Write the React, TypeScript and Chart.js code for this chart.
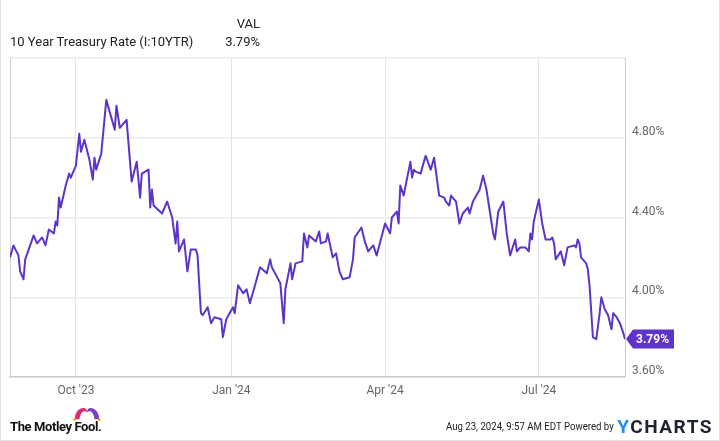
import React, { useEffect, useRef } from 'react';
import { Chart, registerables } from 'chart.js';

Chart.register(...registerables);

// Days since Aug 23, 2023
const dayOffsets: number[] = [
  0, 2, 5, 6, 8, 9, 14, 16, 19, 21,
  23, 26, 27, 28, 29, 30, 33, 35, 36, 39,
  41, 42, 44, 47, 49, 50, 51, 54, 57, 62,
  63, 65, 69, 72, 75, 77, 78, 82, 83, 84,
  85, 90, 93, 96, 98, 99, 100, 103, 105, 107,
  110, 111, 113, 114, 117, 119, 121, 125, 126, 128,
  132, 133, 135, 138, 140, 142, 145, 148, 152, 154,
  155, 160, 162, 163, 166, 167, 169, 173, 174, 176,
  177, 181, 183, 184, 187, 188, 191, 193, 195, 197,
  201, 203, 204, 208, 210, 212, 215, 217, 222, 225,
  226, 229, 230, 231, 233, 237, 238, 239, 240, 243,
  246, 249, 251, 254, 257, 258, 260, 261, 264, 266,
  268, 271, 272, 274, 278, 280, 282, 284, 286, 287,
  289, 292, 294, 296, 299, 300, 302, 305, 307, 308,
  309, 310, 313, 315, 317, 320, 321, 322, 323, 326,
  328, 330, 334, 335, 336, 337, 338, 341, 342, 343,
  345, 347, 349, 350, 352, 354, 356, 357, 359, 361,
  363, 364,
];

const rates: number[] = [
  4.20, 4.26, 4.21, 4.13, 4.09, 4.19, 4.31, 4.27, 4.30, 4.26,
  4.34, 4.32, 4.38, 4.36, 4.50, 4.45, 4.56, 4.62, 4.60, 4.66,
  4.82, 4.73, 4.79, 4.69, 4.59, 4.70, 4.64, 4.72, 4.99, 4.84,
  4.96, 4.85, 4.89, 4.58, 4.68, 4.50, 4.62, 4.64, 4.45, 4.54,
  4.46, 4.42, 4.48, 4.40, 4.27, 4.38, 4.23, 4.29, 4.13, 4.24,
  4.24, 4.21, 3.92, 3.91, 3.95, 3.87, 3.90, 3.89, 3.80, 3.89,
  3.95, 3.92, 4.06, 4.02, 4.04, 3.97, 4.06, 4.15, 4.12, 4.19,
  4.15, 4.07, 3.87, 4.04, 4.17, 4.09, 4.17, 4.18, 4.32, 4.25,
  4.31, 4.28, 4.33, 4.27, 4.28, 4.32, 4.20, 4.22, 4.13, 4.09,
  4.10, 4.19, 4.30, 4.35, 4.28, 4.23, 4.26, 4.21, 4.37, 4.32,
  4.40, 4.43, 4.37, 4.56, 4.51, 4.68, 4.60, 4.64, 4.63, 4.62,
  4.71, 4.64, 4.70, 4.51, 4.50, 4.48, 4.46, 4.51, 4.48, 4.37,
  4.42, 4.45, 4.42, 4.48, 4.54, 4.61, 4.54, 4.43, 4.32, 4.29,
  4.43, 4.48, 4.32, 4.21, 4.29, 4.23, 4.25, 4.25, 4.23, 4.32,
  4.29, 4.38, 4.49, 4.37, 4.29, 4.29, 4.30, 4.27, 4.19, 4.23,
  4.16, 4.25, 4.26, 4.25, 4.29, 4.27, 4.20, 4.17, 4.14, 4.06,
  3.80, 3.79, 3.92, 4.00, 3.94, 3.91, 3.84, 3.92, 3.90, 3.87,
  3.82, 3.79,
];

const xTickDays: number[] = [39, 131, 222, 313];
const xTickLabels: string[] = ["Oct '23", "Jan '24", "Apr '24", "Jul '24"];
const yTickValues: number[] = [3.6, 4.0, 4.4, 4.8, 5.2];
const yTickLabels: string[] = ['3.60%', '4.00%', '4.40%', '4.80%', ''];

const seriesName = '10 Year Treasury Rate (I:10YTR)';
const valueHeader = 'VAL';
const lastValueLabel = '3.79%';
const timestamp = 'Aug 23, 2024, 9:57 AM EDT Powered by';

const LINE_COLOR = '#5d34c8';
const FONT = 'Roboto, "Noto Sans", sans-serif';

export default function App() {
  const canvasRef = useRef<HTMLCanvasElement | null>(null);

  useEffect(() => {
    document.body.style.margin = '0';
    const canvas = canvasRef.current;
    if (!canvas) return;

    const frame = {
      id: 'frameLines',
      beforeDatasetsDraw(chart: any) {
        const { ctx, chartArea } = chart;
        ctx.save();
        ctx.strokeStyle = '#cfcfcf';
        ctx.lineWidth = 1;
        ctx.beginPath();
        ctx.moveTo(Math.round(chartArea.left) + 0.5, chartArea.top);
        ctx.lineTo(Math.round(chartArea.left) + 0.5, chartArea.bottom);
        ctx.stroke();
        ctx.restore();
      },
    };

    const endLabel = {
      id: 'endLabel',
      afterDatasetsDraw(chart: any) {
        const meta = chart.getDatasetMeta(0);
        const pt = meta.data[meta.data.length - 1];
        if (!pt) return;
        const { ctx, chartArea } = chart;
        const x = chartArea.right + 1;
        const y = pt.y;
        const h = 19;
        const w = 48;
        const tip = 7;
        ctx.save();
        ctx.fillStyle = LINE_COLOR;
        ctx.beginPath();
        ctx.moveTo(x, y);
        ctx.lineTo(x + tip, y - h / 2);
        ctx.lineTo(x + w, y - h / 2);
        ctx.lineTo(x + w, y + h / 2);
        ctx.lineTo(x + tip, y + h / 2);
        ctx.closePath();
        ctx.fill();
        ctx.fillStyle = '#ffffff';
        ctx.font = `bold 12px ${FONT}`;
        ctx.textAlign = 'center';
        ctx.textBaseline = 'middle';
        ctx.fillText(lastValueLabel, x + tip + (w - tip) / 2 - 1, y + 1);
        ctx.restore();
      },
    };

    const chart = new Chart(canvas, {
      type: 'line',
      data: {
        datasets: [
          {
            label: seriesName,
            data: dayOffsets.map((d, i) => ({ x: d, y: rates[i] })),
            borderColor: LINE_COLOR,
            borderWidth: 2,
            pointRadius: 0,
            tension: 0,
            fill: false,
            borderJoinStyle: 'round',
          },
        ],
      },
      options: {
        animation: false,
        responsive: false,
        maintainAspectRatio: false,
        events: [],
        layout: { padding: { left: 10, top: 58, right: 0, bottom: 0 } },
        plugins: {
          legend: { display: false },
          tooltip: { enabled: false },
        },
        scales: {
          x: {
            type: 'linear',
            min: 0,
            max: 364,
            afterBuildTicks: (scale: any) => {
              scale.ticks = xTickDays.map((v) => ({ value: v }));
            },
            afterFit: (scale: any) => {
              scale.height = 64;
            },
            ticks: {
              autoSkip: false,
              maxRotation: 0,
              padding: 7,
              color: '#666666',
              font: { family: FONT, size: 12 },
              callback: (v: any) => {
                const i = xTickDays.indexOf(Number(v));
                return i >= 0 ? xTickLabels[i] : '';
              },
            },
            grid: { color: '#e4e4e4', lineWidth: 1, drawTicks: false },
            border: { display: true, color: '#cccccc', width: 1.5 },
          },
          y: {
            type: 'linear',
            position: 'right',
            min: 3.6,
            max: 5.2,
            afterBuildTicks: (scale: any) => {
              scale.ticks = yTickValues.map((v) => ({ value: v }));
            },
            afterFit: (scale: any) => {
              scale.width = 95;
            },
            ticks: {
              padding: 7,
              labelOffset: -6,
              color: '#666666',
              font: { family: FONT, size: 12 },
              callback: (v: any) => {
                const i = yTickValues.findIndex((t) => Math.abs(t - Number(v)) < 1e-6);
                return i >= 0 ? yTickLabels[i] : '';
              },
            },
            grid: { color: '#ececec', lineWidth: 1.5, drawTicks: false },
            border: { display: true, color: '#cccccc', width: 1 },
          },
        },
      },
      plugins: [frame, endLabel],
    } as any);

    return () => {
      chart.destroy();
    };
  }, []);

  return (
    <div
      style={{
        position: 'relative',
        width: 720,
        height: 441,
        overflow: 'hidden',
        background: '#ffffff',
        fontFamily: FONT,
        boxSizing: 'border-box',
      }}
    >
      <canvas
        ref={canvasRef}
        width={720}
        height={441}
        style={{ position: 'absolute', left: 0, top: 0, width: 720, height: 441 }}
      />
      <div style={{ position: 'absolute', left: 0, top: 0, bottom: 0, width: 1, background: '#e2e2e2' }} />
      <div style={{ position: 'absolute', right: 0, top: 0, bottom: 0, width: 1, background: '#e2e2e2' }} />
      <div style={{ position: 'absolute', left: 0, right: 0, bottom: 0, height: 1, background: '#e2e2e2' }} />

      <div style={{ position: 'absolute', left: 0, width: 260, top: 16, textAlign: 'right', fontSize: 13, lineHeight: '15px', color: '#222' }}>
        {valueHeader}
      </div>
      <div style={{ position: 'absolute', left: 10, top: 34, fontSize: 13, lineHeight: '15px', color: '#222', whiteSpace: 'nowrap' }}>
        {seriesName}
      </div>
      <div style={{ position: 'absolute', left: 0, width: 260, top: 34, textAlign: 'right', fontSize: 13, lineHeight: '15px', color: '#222' }}>
        {lastValueLabel}
      </div>

      <svg style={{ position: 'absolute', left: 72, top: 407 }} width={30} height={14} viewBox="0 0 34 16">
        <path d="M3 14 C3 6 8 1 13 1 C15.5 1 17 3 17 6 C15 4.5 12.5 4.5 11 6.5 C9.5 8.5 8.5 11 8.5 14 Z" fill="#e4267a" />
        <path d="M31 14 C31 6 26 1 21 1 C18.5 1 17 3 17 6 C19 4.5 21.5 4.5 23 6.5 C24.5 8.5 25.5 11 25.5 14 Z" fill="#7b3fc4" />
        <circle cx="3" cy="14.3" r="1.6" fill="#f2a900" />
        <circle cx="31" cy="14.3" r="1.6" fill="#f2a900" />
      </svg>
      <div style={{ position: 'absolute', left: 10, top: 419, fontSize: 13, lineHeight: '16px', fontWeight: 700, color: '#111', letterSpacing: '-0.4px', whiteSpace: 'nowrap' }}>
        The Motley Fool.
      </div>

      <div style={{ position: 'absolute', right: 106, top: 420, fontSize: 11, lineHeight: '14px', color: '#222', whiteSpace: 'nowrap', transform: 'scaleX(0.875)', transformOrigin: 'right center' }}>
        {timestamp}
      </div>
      <div style={{ position: 'absolute', right: 7, top: 417, fontSize: 19, lineHeight: '20px', fontWeight: 700, letterSpacing: '1.5px', whiteSpace: 'nowrap' }}>
        <span style={{ color: '#1f8ef1' }}>Y</span>
        <span style={{ color: '#1c2331' }}>CHARTS</span>
      </div>
    </div>
  );
}
